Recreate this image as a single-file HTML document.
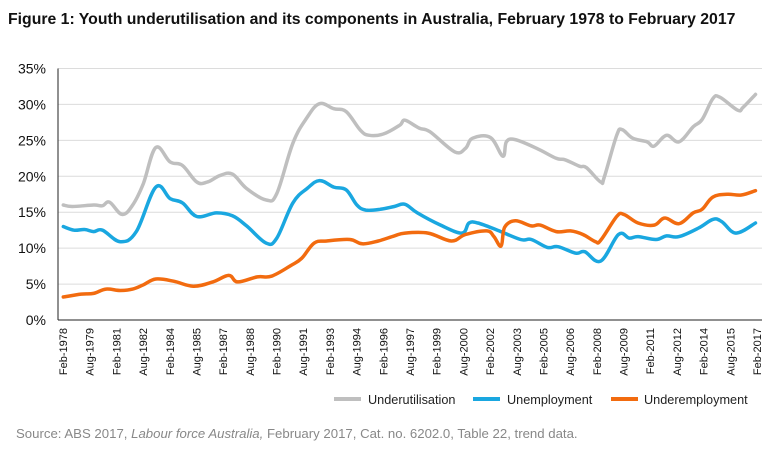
<!DOCTYPE html>
<html><head><meta charset="utf-8"><style>
body{margin:0;background:#fff;width:781px;height:448px;overflow:hidden;font-family:"Liberation Sans",sans-serif}
</style></head><body>
<svg id="chart" width="781" height="448" xmlns="http://www.w3.org/2000/svg" font-family="Liberation Sans, sans-serif">
<text x="8" y="24" font-size="15.8" font-weight="bold" fill="#111">Figure 1: Youth underutilisation and its components in Australia, February 1978 to February 2017</text>
<g id="grid"></g><g id="axes"></g><g id="series"></g>
<g>
<line x1="334" y1="399" x2="361" y2="399" stroke="#bfbfbf" stroke-width="4"/>
<text x="368" y="404" font-size="12.7" fill="#222">Underutilisation</text>
<line x1="473" y1="399" x2="500" y2="399" stroke="#1aa7e0" stroke-width="4"/>
<text x="507" y="404" font-size="12.7" fill="#222">Unemployment</text>
<line x1="611" y1="399" x2="638" y2="399" stroke="#f26b0f" stroke-width="4"/>
<text x="644" y="404" font-size="12.7" fill="#222">Underemployment</text>
</g>
<text x="16" y="438" font-size="13.2" fill="#888">Source: ABS 2017, <tspan font-style="italic">Labour force Australia,</tspan> February 2017, Cat. no. 6202.0, Table 22, trend data.</text>
</svg>
<script>
const yTicks=[0,5,10,15,20,25,30,35];
const xLabels=["Feb-1978","Aug-1979","Feb-1981","Aug-1982","Feb-1984","Aug-1985","Feb-1987","Aug-1988","Feb-1990","Aug-1991","Feb-1993","Aug-1994","Feb-1996","Aug-1997","Feb-1999","Aug-2000","Feb-2002","Aug-2003","Feb-2005","Aug-2006","Feb-2008","Aug-2009","Feb-2011","Aug-2012","Feb-2014","Aug-2015","Feb-2017"];
const underYears=[1978.1,1978.6,1979.8,1980.3,1980.7,1981.4,1982.0,1982.6,1983.3,1984.1,1984.8,1985.6,1986.2,1986.9,1987.6,1988.4,1989.5,1990.1,1991.0,1991.8,1992.5,1993.3,1994.0,1994.8,1995.3,1996.1,1997.0,1997.3,1998.1,1998.7,2000.1,2000.7,2001.1,2002.1,2002.8,2003.0,2003.5,2004.7,2005.8,2006.3,2007.1,2007.5,2008.3,2008.5,2009.2,2009.5,2010.1,2010.9,2011.3,2012.0,2012.7,2013.5,2014.0,2014.6,2015.0,2016.0,2016.3,2017.0];
const underValues=[16.0,15.8,16.0,15.9,16.4,14.7,16.0,19.0,24.0,22.0,21.5,19.2,19.2,20.1,20.3,18.3,16.7,17.6,24.6,28.2,30.1,29.4,29.0,26.4,25.7,25.9,27.1,27.8,26.7,26.2,23.4,23.9,25.3,25.4,22.8,24.8,25.1,23.9,22.5,22.3,21.4,21.2,19.2,19.9,25.7,26.5,25.3,24.8,24.2,25.7,24.8,26.9,27.9,30.8,31.0,29.2,29.6,31.4];
const unempYears=[1978.1,1978.7,1979.3,1979.8,1980.3,1981.3,1982.2,1983.3,1984.1,1984.8,1985.6,1986.7,1987.6,1988.4,1989.5,1990.1,1991.0,1991.8,1992.5,1993.3,1994.0,1994.6,1995.1,1995.9,1996.7,1997.3,1998.0,1999.3,2000.5,2000.9,2001.4,2002.5,2003.8,2004.4,2005.3,2005.9,2006.9,2007.4,2008.3,2009.3,2009.9,2010.4,2011.4,2012.0,2012.7,2013.8,2014.6,2015.1,2015.9,2017.0];
const unempValues=[13.0,12.5,12.6,12.3,12.5,10.9,12.3,18.5,16.9,16.3,14.4,14.9,14.5,13.1,10.7,11.4,16.3,18.3,19.4,18.5,18.1,16.0,15.3,15.4,15.8,16.1,14.9,13.2,12.1,13.5,13.5,12.5,11.2,11.2,10.1,10.2,9.3,9.5,8.2,11.9,11.4,11.6,11.2,11.7,11.6,12.8,14.0,13.7,12.1,13.5];
const underempYears=[1978.1,1979.1,1979.8,1980.5,1981.3,1982.0,1982.6,1983.3,1984.3,1985.4,1986.5,1987.4,1987.9,1989.0,1989.8,1990.9,1991.5,1992.2,1992.9,1994.2,1994.9,1995.8,1996.7,1997.3,1998.6,1999.9,2000.7,2001.9,2002.3,2002.7,2002.9,2003.5,2004.4,2004.9,2005.8,2006.6,2007.3,2008.0,2008.3,2009.2,2009.6,2010.4,2011.3,2011.9,2012.7,2013.5,2014.0,2014.6,2015.4,2016.2,2017.0];
const underempValues=[3.2,3.6,3.7,4.3,4.1,4.3,4.9,5.7,5.4,4.7,5.3,6.2,5.3,6.0,6.1,7.6,8.6,10.7,11.0,11.2,10.6,11.0,11.7,12.1,12.1,11.0,11.9,12.4,11.6,10.3,12.9,13.8,13.1,13.2,12.3,12.4,11.9,10.9,11.1,14.4,14.7,13.5,13.2,14.2,13.4,14.9,15.4,17.1,17.5,17.4,18.0];
const NS="http://www.w3.org/2000/svg";
const X0=63,X1=757,T0=1978.083,T1=2017.083,Y0=320,Y1=68.5,L=58,R=762;
const xs=t=>X0+(t-T0)/(T1-T0)*(X1-X0);
const ys=v=>Y0+(v/35)*(Y1-Y0);
function mk(tag,attrs,parent){const e=document.createElementNS(NS,tag);for(const k in attrs)e.setAttribute(k,attrs[k]);parent.appendChild(e);return e;}
const grid=document.getElementById('grid'),axes=document.getElementById('axes'),ser=document.getElementById('series');
yTicks.forEach(v=>{
 if(v>0){const g=mk('line',{x1:L,x2:R,y1:ys(v),y2:ys(v),stroke:'#dcdcdc','stroke-width':1},grid);
 
 }
 const t=mk('text',{x:46,y:ys(v)+5,'font-size':14,'text-anchor':'end',fill:'#111'},axes);
 t.textContent=v+'%';
 
 
});
const ya=mk('line',{x1:L,x2:L,y1:Y1,y2:Y0,stroke:'#222','stroke-width':1},axes);


const xa=mk('line',{x1:L,x2:R,y1:Y0,y2:Y0,stroke:'#222','stroke-width':1},axes);


xLabels.forEach((lab,i)=>{
 const t=T0+i*1.5, x=xs(t)+4;
 const e=mk('text',{x:0,y:0,'font-size':11,'text-anchor':'end',fill:'#111',transform:`translate(${x},328) rotate(-90)`},axes);
 e.textContent=lab;
 
 
});
function line(yrs,vals,color,name){
 const P=yrs.map((t,i)=>[xs(t),ys(vals[i])]);
 let d='M'+P[0][0].toFixed(1)+' '+P[0][1].toFixed(1);
 const k=0.18;
 for(let i=0;i<P.length-1;i++){
  const p0=P[Math.max(0,i-1)],p1=P[i],p2=P[i+1],p3=P[Math.min(P.length-1,i+2)];
  const c1=[p1[0]+(p2[0]-p0[0])*k,p1[1]+(p2[1]-p0[1])*k];
  const c2=[p2[0]-(p3[0]-p1[0])*k,p2[1]-(p3[1]-p1[1])*k];
  d+=` C${c1[0].toFixed(1)} ${c1[1].toFixed(1)} ${c2[0].toFixed(1)} ${c2[1].toFixed(1)} ${p2[0].toFixed(1)} ${p2[1].toFixed(1)}`;
 }
 const p=mk('path',{d:d,fill:'none',stroke:color,'stroke-width':3.5,'stroke-linejoin':'round','stroke-linecap':'round'},ser);
 
 
}
line(underYears,underValues,'#bfbfbf','underutilisation-line');
line(unempYears,unempValues,'#1aa7e0','unemployment-line');
line(underempYears,underempValues,'#f26b0f','underemployment-line');
</script>
</body></html>
